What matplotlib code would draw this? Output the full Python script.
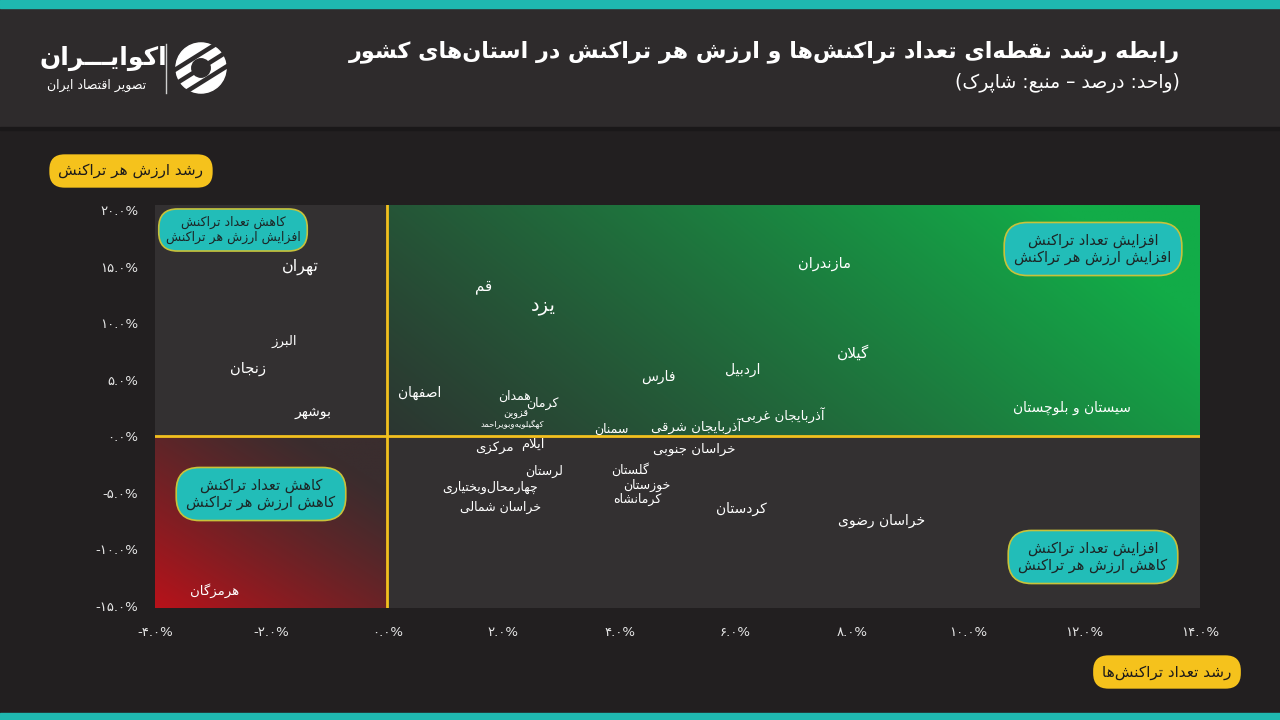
import matplotlib.pyplot as plt
import numpy as np
from matplotlib.patches import Rectangle, Circle
from matplotlib.ticker import FuncFormatter

# داده‌ها: رشد تعداد تراکنش (محور x) و رشد ارزش هر تراکنش (محور y)
provinces = ['تهران', 'البرز', 'زنجان', 'بوشهر', 'هرمزگان', 'اصفهان', 'قم', 'یزد',
             'همدان', 'کرمان', 'قزوین', 'کهگیلویه‌وبویراحمد', 'مرکزی', 'ایلام', 'لرستان',
             'چهارمحال‌وبختیاری', 'خراسان شمالی', 'سمنان', 'فارس', 'آذربایجان شرقی',
             'خراسان جنوبی', 'اردبیل', 'آذربایجان غربی', 'گلستان', 'خوزستان', 'کرمانشاه',
             'کردستان', 'خراسان رضوی', 'مازندران', 'گیلان', 'سیستان و بلوچستان']
count_growth = [-1.50, -1.78, -2.40, -1.28, -2.97, 0.55, 1.66, 2.69,
                2.19, 2.68, 2.22, 2.16, 1.84, 2.50, 2.71,
                1.78, 1.95, 3.86, 4.67, 5.32,
                5.28, 6.12, 6.81, 4.19, 4.48, 4.31,
                6.10, 8.52, 7.53, 8.03, 11.79]
value_growth = [15.0, 8.4, 6.0, 2.1, -13.7, 3.8, 13.2, 11.6,
                3.5, 2.86, 1.97, 0.99, -1.1, -0.76, -3.16,
                -4.5, -6.3, 0.56, 5.24, 0.92,
                -1.15, 5.87, 1.9, -2.97, -4.4, -5.6,
                -6.4, -7.5, 15.24, 7.37, 2.5]
label_size = [11.5, 9.5, 10.5, 10, 9.5, 10, 11, 14,
              9, 9, 7, 6, 9.5, 9.5, 9,
              9, 9, 9, 10, 9.5,
              9.5, 10, 9.5, 9, 9, 9,
              10, 10, 10.5, 11, 10]

x_ticks = [-4, -2, 0, 2, 4, 6, 8, 10, 12, 14]
y_ticks = [-15, -10, -5, 0, 5, 10, 15, 20]

title = 'رابطه رشد نقطه‌ای تعداد تراکنش‌ها و ارزش هر تراکنش در استان‌های کشور'
subtitle = '(واحد: درصد – منبع: شاپرک)'

# --- شکل‌دهی حروف فارسی (matplotlib خودش اتصال و راست‌به‌چپ ندارد) ---
FORMS = {
    'ا': ('\uFE8D', '\uFE8E', None, None), 'آ': ('\uFE81', '\uFE82', None, None),
    'ب': ('\uFE8F', '\uFE90', '\uFE91', '\uFE92'), 'پ': ('\uFB56', '\uFB57', '\uFB58', '\uFB59'),
    'ت': ('\uFE95', '\uFE96', '\uFE97', '\uFE98'), 'ث': ('\uFE99', '\uFE9A', '\uFE9B', '\uFE9C'),
    'ج': ('\uFE9D', '\uFE9E', '\uFE9F', '\uFEA0'), 'چ': ('\uFB7A', '\uFB7B', '\uFB7C', '\uFB7D'),
    'ح': ('\uFEA1', '\uFEA2', '\uFEA3', '\uFEA4'), 'خ': ('\uFEA5', '\uFEA6', '\uFEA7', '\uFEA8'),
    'د': ('\uFEA9', '\uFEAA', None, None), 'ذ': ('\uFEAB', '\uFEAC', None, None),
    'ر': ('\uFEAD', '\uFEAE', None, None), 'ز': ('\uFEAF', '\uFEB0', None, None),
    'ژ': ('\uFB8A', '\uFB8B', None, None),
    'س': ('\uFEB1', '\uFEB2', '\uFEB3', '\uFEB4'), 'ش': ('\uFEB5', '\uFEB6', '\uFEB7', '\uFEB8'),
    'ص': ('\uFEB9', '\uFEBA', '\uFEBB', '\uFEBC'), 'ض': ('\uFEBD', '\uFEBE', '\uFEBF', '\uFEC0'),
    'ط': ('\uFEC1', '\uFEC2', '\uFEC3', '\uFEC4'), 'ظ': ('\uFEC5', '\uFEC6', '\uFEC7', '\uFEC8'),
    'ع': ('\uFEC9', '\uFECA', '\uFECB', '\uFECC'), 'غ': ('\uFECD', '\uFECE', '\uFECF', '\uFED0'),
    'ف': ('\uFED1', '\uFED2', '\uFED3', '\uFED4'), 'ق': ('\uFED5', '\uFED6', '\uFED7', '\uFED8'),
    'ک': ('\uFB8E', '\uFB8F', '\uFB90', '\uFB91'), 'گ': ('\uFB92', '\uFB93', '\uFB94', '\uFB95'),
    'ل': ('\uFEDD', '\uFEDE', '\uFEDF', '\uFEE0'), 'م': ('\uFEE1', '\uFEE2', '\uFEE3', '\uFEE4'),
    'ن': ('\uFEE5', '\uFEE6', '\uFEE7', '\uFEE8'), 'و': ('\uFEED', '\uFEEE', None, None),
    'ه': ('\uFEE9', '\uFEEA', '\uFEEB', '\uFEEC'), 'ی': ('\uFBFC', '\uFBFD', '\uFBFE', '\uFBFF'),
    'ئ': ('\uFE89', '\uFE8A', '\uFE8B', '\uFE8C'), 'ـ': ('ـ', 'ـ', 'ـ', 'ـ'),
}
LAM_ALEF = {'ا': ('\uFEFB', '\uFEFC'), 'آ': ('\uFEF5', '\uFEF6')}
MIRROR = {'(': ')', ')': '('}


def fa(text):
    lines = []
    for line in text.split('\n'):
        ch = list(line)
        out = []
        i = 0
        while i < len(ch):
            c = ch[i]
            prev = ch[i - 1] if i > 0 else None
            nxt = ch[i + 1] if i + 1 < len(ch) else None
            jp = prev in FORMS and FORMS[prev][2] is not None
            if c == 'ل' and nxt in LAM_ALEF:
                out.append(LAM_ALEF[nxt][1 if jp else 0])
                i += 2
                continue
            if c in FORMS:
                f = FORMS[c]
                jn = f[2] is not None and nxt in FORMS
                if jp and jn:
                    out.append(f[3])
                elif jp:
                    out.append(f[1])
                elif jn:
                    out.append(f[2])
                else:
                    out.append(f[0])
            elif c == '\u200c':
                pass
            else:
                out.append(MIRROR.get(c, c))
            i += 1
        lines.append(''.join(out[::-1]))
    return '\n'.join(lines)


def fa_digits(s):
    return s.translate(str.maketrans('0123456789', '۰۱۲۳۴۵۶۷۸۹'))


plt.rcParams['font.family'] = ['DejaVu Sans']

BG = '#221f20'
HEADER = '#2e2b2c'
TEAL = '#1fb8b0'
YELLOW = '#f2c01e'
GREY = '#333031'

fig = plt.figure(figsize=(12.8, 7.2), dpi=100, facecolor=BG)

# نوارهای بالا و پایین
fig.patches.append(Rectangle((0, 1 - 127 / 720), 1, 119 / 720, transform=fig.transFigure,
                             color=HEADER, zorder=-2))
fig.patches.append(Rectangle((0, 1 - 130 / 720), 1, 3 / 720, transform=fig.transFigure,
                             color='#1a1819', zorder=-2))
fig.patches.append(Rectangle((0, 1 - 8 / 720), 1, 8 / 720, transform=fig.transFigure,
                             color=TEAL, zorder=-1))
fig.patches.append(Rectangle((0, 0), 1, 7 / 720, transform=fig.transFigure,
                             color=TEAL, zorder=-1))

# عنوان
fig.text(1180 / 1280, 1 - 52 / 720, fa(title), ha='right', va='center',
         color='white', fontsize=16, fontweight='bold')
fig.text(1180 / 1280, 1 - 83 / 720, fa(subtitle), ha='right', va='center',
         color='white', fontsize=13.5)

# لوگو
fig.text(103 / 1280, 1 - 58 / 720, fa('اکوایـــران'), ha='center', va='center',
         color='white', fontsize=18, fontweight='bold')
fig.text(97 / 1280, 1 - 85 / 720, fa('تصویر اقتصاد ایران'), ha='center', va='center',
         color='white', fontsize=9)
fig.lines.append(plt.Line2D([166 / 1280, 166 / 1280], [1 - 44 / 720, 1 - 93 / 720],
                            transform=fig.transFigure, color='#cfcfcf', lw=1))
lax = fig.add_axes([172 / 1280, 1 - 97 / 720, 58 / 1280, 58 / 720], zorder=5)
lax.set_xlim(-1.1, 1.1)
lax.set_ylim(-1.1, 1.1)
lax.set_aspect('equal')
lax.axis('off')
lax.add_patch(Circle((0, 0), 0.95, color='white'))
for off in [-0.55, 0.0, 0.55]:
    lax.plot([-1.2, 1.2], [off - 0.75, off + 0.75], color=HEADER, lw=3.2,
             solid_capstyle='butt')
lax.add_patch(Circle((0, 0), 0.35, color=HEADER))

# محور اصلی
ax = fig.add_axes([155 / 1280, 1 - 608 / 720, 1045 / 1280, 403 / 720])
ax.set_facecolor(GREY)
xmin, xmax, ymin, ymax = -4, 14, -15.2, 20.45

# گرادیان ربع سبز
n = 200
u, v = np.meshgrid(np.linspace(0, 1, n), np.linspace(0, 1, n))
t = np.clip(0.85 * u + 0.3 * v, 0, 1) ** 1.1
c0 = np.array([0x2c, 0x36, 0x31]) / 255
c1 = np.array([0x12, 0xac, 0x48]) / 255
green = c0 + (c1 - c0) * t[..., None]
ax.imshow(green, extent=[0, xmax, 0, ymax], origin='lower', aspect='auto', zorder=0)

# گرادیان ربع قرمز
t = np.clip(1 - (0.55 * u + 0.65 * v), 0, 1) ** 1.2
c0 = np.array([0x3a, 0x2d, 0x2e]) / 255
c1 = np.array([0xb8, 0x12, 0x1a]) / 255
red = c0 + (c1 - c0) * t[..., None]
ax.imshow(red, extent=[xmin, 0, ymin, 0], origin='lower', aspect='auto', zorder=0)
ax.set_xlim(xmin, xmax)
ax.set_ylim(ymin, ymax)

ax.axvline(0, color=YELLOW, lw=2, zorder=2)
ax.axhline(0, color=YELLOW, lw=2, zorder=2)

for name, x, y, s in zip(provinces, count_growth, value_growth, label_size):
    ax.text(x, y, fa(name), ha='center', va='center', color='white', fontsize=s, zorder=3)

for sp in ax.spines.values():
    sp.set_visible(False)
ax.set_xticks(x_ticks)
ax.set_yticks(y_ticks)
ax.xaxis.set_major_formatter(FuncFormatter(lambda val, pos: fa_digits(f'{val:.1f}%')))
ax.yaxis.set_major_formatter(FuncFormatter(lambda val, pos: fa_digits(f'{val:.1f}%')))
ax.tick_params(length=0, colors='#e6e6e6', labelsize=9.5)
ax.tick_params(axis='x', pad=13)
ax.tick_params(axis='y', pad=12)

# جعبه‌های ربع‌ها
quads = [
    (233, 230, 'کاهش تعداد تراکنش\nافزایش ارزش هر تراکنش', 9, 0.55, 1.5),
    (1093, 249, 'افزایش تعداد تراکنش\nافزایش ارزش هر تراکنش', 10.5, 0.7, 1.6),
    (261, 494, 'کاهش تعداد تراکنش\nکاهش ارزش هر تراکنش', 10.5, 0.7, 1.6),
    (1093, 557, 'افزایش تعداد تراکنش\nکاهش ارزش هر تراکنش', 10.5, 0.7, 1.6),
]
for px, py, txt, fs, pad, rs in quads:
    box = dict(boxstyle=f'round,pad={pad},rounding_size={rs}', fc='#22bdb8',
               ec='#c8c23a', lw=1.2)
    fig.text(px / 1280, 1 - py / 720, fa(txt), ha='center', va='center', color='#1c2626',
             fontsize=fs, multialignment='center', linespacing=1.2, bbox=box, zorder=5)

# برچسب محورها
pill = dict(boxstyle='round,pad=0.6,rounding_size=1.0', fc='#f5c21c', ec='none')
fig.text(131 / 1280, 1 - 171 / 720, fa('رشد ارزش هر تراکنش'), ha='center', va='center',
         color='#1c1a1a', fontsize=11, bbox=pill)
fig.text(1167 / 1280, 1 - 672 / 720, fa('رشد تعداد تراکنش‌ها'), ha='center', va='center',
         color='#1c1a1a', fontsize=11, bbox=pill)

fig.savefig('out.png', dpi=100, facecolor=BG)
